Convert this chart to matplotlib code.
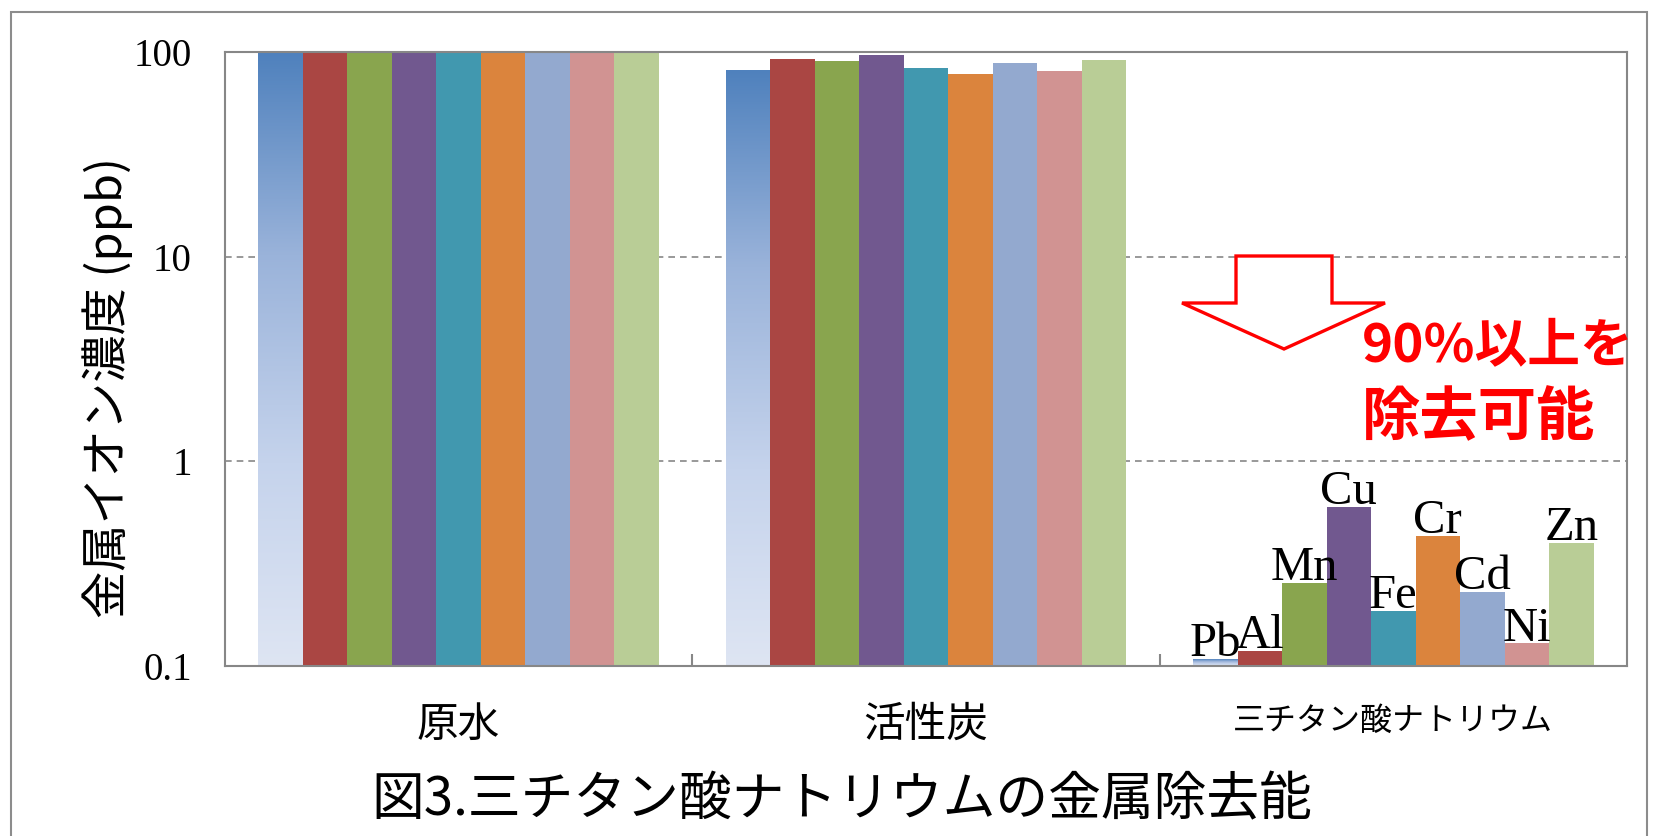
import numpy as np
import matplotlib
matplotlib.use("Agg")
import matplotlib.pyplot as plt
from matplotlib.patches import Polygon, Rectangle
from matplotlib.colors import LinearSegmentedColormap
from matplotlib.ticker import FixedLocator, FixedFormatter, NullLocator

# ---- data -------------------------------------------------------------
categories = ["原水", "活性炭", "三チタン酸ナトリウム"]
metals = ["Pb", "Al", "Mn", "Cu", "Fe", "Cr", "Cd", "Ni", "Zn"]
raw_water = [100, 100, 100, 100, 100, 100, 100, 100, 100]
activated_carbon = [82.0, 92.9, 90.8, 97.1, 83.9, 77.8, 88.1, 81.2, 91.8]
sodium_trititanate = [0.108, 0.119, 0.254, 0.60, 0.186, 0.432, 0.230, 0.129, 0.398]
y_ticks = [0.1, 1, 10, 100]
y_tick_labels = ["0.1", "1", "10", "100"]

colors = ["#4F81BD", "#AA4643", "#89A54E", "#71588F", "#4198AF",
          "#DB843D", "#93A9CF", "#D19392", "#B9CD96"]

JP = "Noto Sans CJK JP"
SERIF = "Liberation Serif"

# ---- figure -----------------------------------------------------------
W, H = 1665, 836
fig = plt.figure(figsize=(W / 100, H / 100), dpi=100)
fig.patch.set_facecolor("white")


def fx(px):
    return px / W


def fy(py):
    return 1 - py / H


ax = fig.add_axes([fx(225), fy(666), fx(1627) - fx(225), fy(52) - fy(666)])
ax.set_yscale("log")
ax.set_ylim(0.1, 100)
ax.set_xlim(-0.5, len(categories) - 0.5)
ax.set_autoscale_on(False)

grad_cmap = LinearSegmentedColormap.from_list(
    "blue_fade",
    [(0.0, "#DEE5F3"), (0.33, "#C5D3EC"), (0.67, "#9AB3DA"), (1.0, "#4F81BD")])
gradient = np.linspace(0, 1, 256).reshape(-1, 1)
to_axes = ax.transData + ax.transAxes.inverted()

n = len(metals)
width = 1 / (n + 1.5)
cat_pos = np.arange(len(categories))
for j, (name, color) in enumerate(zip(metals, colors)):
    vals = [raw_water[j], activated_carbon[j], sodium_trititanate[j]]
    xs = cat_pos + (j - (n - 1) / 2) * width
    bars = ax.bar(xs, vals, width, color=color, edgecolor="none", zorder=2)
    if j == 0:
        # first series is drawn with a vertical fade
        for bar, v in zip(bars, vals):
            bar.set_facecolor("none")
            (ax0, ay0), (ax1, ay1) = to_axes.transform(
                [(bar.get_x(), 0.1), (bar.get_x() + bar.get_width(), v)])
            im = ax.imshow(gradient, cmap=grad_cmap, origin="lower",
                           extent=(ax0, ax1, ay0, ay1), transform=ax.transAxes,
                           aspect="auto", interpolation="bilinear", zorder=2)
            im.set_clip_path(bar)
    ax.annotate(name, (xs[2], sodium_trititanate[j]), xytext=(0, 2),
                textcoords="offset points", ha="center", va="baseline",
                fontsize=35, family=SERIF, color="black", zorder=4)

ax.set_xlim(-0.5, len(categories) - 0.5)
ax.set_ylim(0.1, 100)

# axes styling
for sp in ax.spines.values():
    sp.set_color("#878787")
    sp.set_linewidth(1.5)
ax.set_axisbelow(True)
ax.yaxis.grid(True, which="major", color="#878787", linewidth=1.2,
              linestyle=(0, (4, 3)))
ax.yaxis.set_major_locator(FixedLocator(y_ticks))
ax.yaxis.set_major_formatter(FixedFormatter(y_tick_labels))
ax.yaxis.set_minor_locator(NullLocator())
ax.tick_params(axis="y", which="major", length=0, pad=24,
               labelsize=28)
for t in ax.get_yticklabels():
    t.set_family(SERIF)

ax.set_xticks(cat_pos)
ax.set_xticklabels(categories, family=JP, fontsize=30)
ax.set_xticks(cat_pos[:-1] + 0.5, minor=True)
ax.tick_params(axis="x", which="major", length=0, pad=28)
ax.tick_params(axis="x", which="minor", direction="in", length=9,
               width=1.5, color="#878787")
ax.get_xticklabels()[2].set_fontsize(23)

ax.set_ylabel("金属イオン濃度 (ppb)", family=JP, fontsize=34, va="center")
ax.yaxis.set_label_coords(-0.0835, 0.453)

# annotation arrow and message
arrow_px = [(1236, 256), (1332, 256), (1332, 303), (1385, 303),
            (1284, 349), (1182, 303), (1236, 303)]
arrow = Polygon([(fx(x), fy(y)) for x, y in arrow_px], closed=True,
                transform=fig.transFigure, facecolor="white",
                edgecolor="#FF0000", linewidth=2.4, zorder=5)
fig.add_artist(arrow)
fig.text(fx(1362), fy(346), "90%以上を", family=JP, fontweight="bold",
         fontsize=38, color="#FF0000", ha="left", va="center")
fig.text(fx(1362), fy(418), "除去可能", family=JP, fontweight="bold",
         fontsize=42, color="#FF0000", ha="left", va="center")

# title
fig.text(fx(842), fy(800), "図3.三チタン酸ナトリウムの金属除去能", family=JP,
         fontsize=38, ha="center", va="center")

# outer frame
frame = Rectangle((fx(11), fy(900)), fx(1647) - fx(11), fy(12) - fy(900),
                  transform=fig.transFigure, fill=False,
                  edgecolor="#8C8C8C", linewidth=1.5, clip_on=False)
fig.add_artist(frame)

fig.savefig("out.png", dpi=100)
